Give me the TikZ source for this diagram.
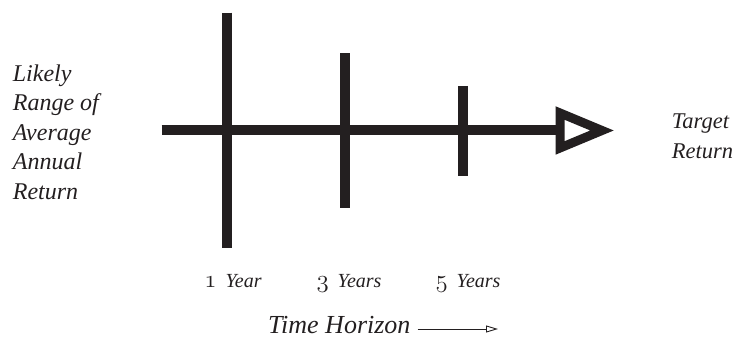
\documentclass[tikz,border=0pt]{standalone}
\usepackage{xcolor}
\usepackage{fontspec}
\setmainfont{Liberation Serif}
\usepackage{tikz}
\usetikzlibrary{arrows.meta, positioning, calc}

\definecolor{ink}{HTML}{231F20}
\newcommand\osnum[1]{{\fontsize{23}{24}\usefont{OML}{cmm}{m}{it}#1}\hspace{4pt}}

\begin{document}
\begin{tikzpicture}[x=1pt, y=-1pt,
  bar/.style={line width=10pt, ink},
  head/.style={line width=9pt, ink, line join=miter},
  sidelbl/.style={font=\fontsize{24}{29.5}\selectfont\itshape, align=left, inner sep=0pt, text=ink},
  yearlbl/.style={font=\fontsize{20}{24}\selectfont\itshape, inner sep=0pt, text=ink, anchor=base},
  thinarr/.style={-{Triangle[open, length=12pt, width=7pt]}, line width=0.9pt, ink},
]
  \useasboundingbox (0,0) rectangle (740,339);

  % time axis with open arrow head
  \coordinate (start) at (161.7,130.5);
  \coordinate (hl) at (560,130.5);
  \draw[bar] (start) -- (hl);
  \draw[head] (560,113) -- (602,130.5) -- (560,148) -- cycle;

  % ranges
  \coordinate (b1t) at (226.7,12.7);  \coordinate (b1b) at (226.7,248.3);
  \coordinate (b2t) at (344.7,53.3);  \coordinate (b2b) at (344.7,208.3);
  \coordinate (b3t) at (462.8,86);    \coordinate (b3b) at (462.8,176);
  \draw[bar] (b1t) -- (b1b);
  \draw[bar] (b2t) -- (b2b);
  \draw[bar] (b3t) -- (b3b);

  % labels
  \node[sidelbl, anchor=north west] (range) at (12.7,64.5) {Likely\\Range of\\Average\\Annual\\Return};
  \node[sidelbl, anchor=north west, font=\fontsize{22.5}{30}\selectfont\itshape] (target) at (671.7,114) {Target\\Return};

  \node[yearlbl] (y1) at (233,288) {\osnum{1} Year};
  \node[yearlbl] (y3) at (349,288) {\osnum{3} Years};
  \node[yearlbl] (y5) at (468,288) {\osnum{5} Years};

  \node[yearlbl, anchor=base west, font=\fontsize{26}{30}\selectfont\itshape] (horizon) at (268,334) {Time Horizon};
  \coordinate (hend) at (498,329);
  \draw[thinarr] (horizon.east |- hend) ++(7,0) -- (hend);
\end{tikzpicture}
\end{document}
